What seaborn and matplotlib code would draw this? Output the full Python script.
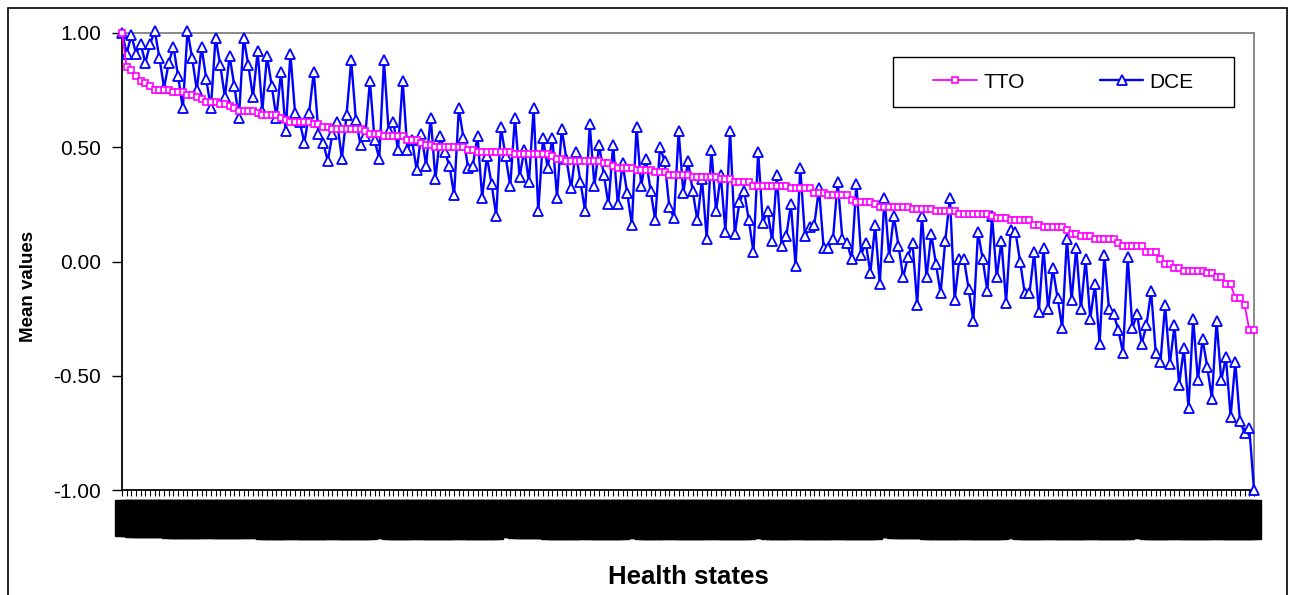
import itertools
import pandas as pd
import matplotlib
matplotlib.use('Agg')
import matplotlib.pyplot as plt
from matplotlib.patches import Rectangle
import seaborn as sns

# mean values per health state, sorted by TTO
tto = [1.00, 0.85, 0.84, 0.81, 0.79, 0.78, 0.77, 0.75, 0.75, 0.75, 0.75, 0.74, 0.74, 0.74, 0.73, 0.73,
       0.72, 0.71, 0.70, 0.70, 0.70, 0.69, 0.69, 0.68, 0.67, 0.66, 0.66, 0.66, 0.66, 0.65, 0.64, 0.64,
       0.64, 0.64, 0.63, 0.62, 0.61, 0.61, 0.61, 0.61, 0.61, 0.60, 0.60, 0.59, 0.59, 0.58, 0.58, 0.58,
       0.58, 0.58, 0.58, 0.58, 0.57, 0.56, 0.56, 0.56, 0.55, 0.55, 0.55, 0.55, 0.55, 0.53, 0.53, 0.53,
       0.52, 0.51, 0.51, 0.50, 0.50, 0.50, 0.50, 0.50, 0.50, 0.50, 0.49, 0.49, 0.48, 0.48, 0.48, 0.48,
       0.48, 0.48, 0.48, 0.48, 0.47, 0.47, 0.47, 0.47, 0.47, 0.47, 0.47, 0.47, 0.46, 0.45, 0.45, 0.44,
       0.44, 0.44, 0.44, 0.44, 0.44, 0.44, 0.44, 0.43, 0.43, 0.42, 0.41, 0.41, 0.41, 0.41, 0.40, 0.40,
       0.40, 0.40, 0.39, 0.39, 0.39, 0.38, 0.38, 0.38, 0.38, 0.38, 0.37, 0.37, 0.37, 0.37, 0.37, 0.37,
       0.36, 0.36, 0.36, 0.35, 0.35, 0.35, 0.35, 0.33, 0.33, 0.33, 0.33, 0.33, 0.33, 0.33, 0.33, 0.32,
       0.32, 0.32, 0.32, 0.32, 0.30, 0.30, 0.30, 0.29, 0.29, 0.29, 0.29, 0.29, 0.27, 0.26, 0.26, 0.26,
       0.26, 0.25, 0.24, 0.24, 0.24, 0.24, 0.24, 0.24, 0.24, 0.23, 0.23, 0.23, 0.23, 0.23, 0.22, 0.22,
       0.22, 0.22, 0.22, 0.21, 0.21, 0.21, 0.21, 0.21, 0.21, 0.21, 0.20, 0.19, 0.19, 0.19, 0.18, 0.18,
       0.18, 0.18, 0.18, 0.16, 0.16, 0.15, 0.15, 0.15, 0.15, 0.15, 0.14, 0.12, 0.12, 0.11, 0.11, 0.11,
       0.10, 0.10, 0.10, 0.10, 0.10, 0.08, 0.07, 0.07, 0.07, 0.07, 0.07, 0.04, 0.04, 0.04, 0.01, -0.01,
       -0.01, -0.03, -0.03, -0.04, -0.04, -0.04, -0.04, -0.04, -0.05, -0.05, -0.07, -0.07, -0.10, -0.10,
       -0.16, -0.16, -0.19, -0.30, -0.30]

dce = [1.00, 0.91, 0.99, 0.91, 0.95, 0.87, 0.95, 1.01, 0.89, 0.76, 0.87, 0.94, 0.81, 0.67, 1.01, 0.89,
       0.75, 0.94, 0.80, 0.67, 0.98, 0.86, 0.72, 0.90, 0.77, 0.63, 0.98, 0.86, 0.72, 0.92, 0.66, 0.90,
       0.77, 0.63, 0.83, 0.57, 0.91, 0.65, 0.61, 0.52, 0.65, 0.83, 0.56, 0.52, 0.44, 0.56, 0.61, 0.45,
       0.64, 0.88, 0.62, 0.51, 0.55, 0.79, 0.53, 0.45, 0.88, 0.57, 0.61, 0.49, 0.79, 0.49, 0.53, 0.40,
       0.56, 0.42, 0.63, 0.36, 0.55, 0.48, 0.42, 0.29, 0.67, 0.54, 0.41, 0.42, 0.55, 0.28, 0.46, 0.34,
       0.20, 0.59, 0.46, 0.33, 0.63, 0.37, 0.49, 0.35, 0.67, 0.22, 0.54, 0.41, 0.54, 0.28, 0.58, 0.45,
       0.32, 0.48, 0.35, 0.22, 0.60, 0.33, 0.51, 0.38, 0.25, 0.51, 0.25, 0.43, 0.30, 0.16, 0.59, 0.33,
       0.45, 0.31, 0.18, 0.50, 0.44, 0.24, 0.19, 0.57, 0.30, 0.44, 0.31, 0.18, 0.36, 0.10, 0.49, 0.22,
       0.38, 0.13, 0.57, 0.12, 0.26, 0.31, 0.18, 0.04, 0.48, 0.17, 0.22, 0.09, 0.38, 0.07, 0.11, 0.25,
       -0.02, 0.41, 0.11, 0.15, 0.16, 0.32, 0.06, 0.06, 0.10, 0.35, 0.10, 0.08, 0.01, 0.34, 0.03, 0.08,
       -0.05, 0.16, -0.10, 0.28, 0.02, 0.20, 0.07, -0.07, 0.02, 0.08, -0.19, 0.20, -0.07, 0.12, -0.01,
       -0.14, 0.09, 0.28, -0.17, 0.01, 0.01, -0.12, -0.26, 0.13, 0.01, -0.13, 0.20, -0.07, 0.09, -0.18,
       0.14, 0.13, 0.00, -0.14, -0.14, 0.04, -0.22, 0.06, -0.21, -0.03, -0.16, -0.29, 0.10, -0.17, 0.06,
       -0.21, 0.01, -0.25, -0.10, -0.36, 0.03, -0.21, -0.23, -0.30, -0.40, 0.02, -0.29, -0.23, -0.36,
       -0.28, -0.13, -0.40, -0.44, -0.19, -0.45, -0.28, -0.54, -0.38, -0.64, -0.25, -0.52, -0.34, -0.46,
       -0.60, -0.26, -0.52, -0.42, -0.68, -0.44, -0.70, -0.75, -0.73, -1.00]

# the 243 EQ-5D states (labels are unreadable in the original, they overlap into a black band)
health_states = [''.join(p) for p in itertools.product('123', repeat=5)]
y_ticks = [-1.0, -0.5, 0.0, 0.5, 1.0]
y_ticklabels = ['-1.00', '-0.50', '0.00', '0.50', '1.00']

df = pd.DataFrame({'state': range(len(tto)), 'TTO': tto, 'DCE': dce})

sns.set_style('white')
plt.rcParams['font.family'] = ['Liberation Sans', 'DejaVu Sans']
for key in ['text.color', 'axes.labelcolor', 'xtick.color', 'ytick.color']:
    plt.rcParams[key] = 'black'

fig = plt.figure(figsize=(12.9, 5.95), dpi=100)
ax = fig.add_axes([122 / 1290, 1 - 490 / 595, 1132 / 1290, 457 / 595])

sns.lineplot(data=df, x='state', y='DCE', ax=ax, color='#0000FF', lw=1.7, marker='^', ms=6.5,
             mfc='white', mec='#0000FF', mew=1.3, label='DCE', clip_on=False, zorder=3)
sns.lineplot(data=df, x='state', y='TTO', ax=ax, color='#FF00FF', lw=1.3, marker='s', ms=4.2,
             mfc='white', mec='#FF00FF', mew=1.2, label='TTO', clip_on=False, zorder=4)

ax.set_xlim(0, len(tto) - 1)
ax.set_ylim(-1, 1)
ax.set_yticks(y_ticks)
ax.set_yticklabels(y_ticklabels)
ax.set_xticks(range(len(health_states)))
# the state codes are packed so tightly that they print as a solid black band
ax.set_xticklabels(health_states, rotation=90, fontsize=9.5, fontweight='bold', color='black',
                   bbox=dict(facecolor='black', edgecolor='black', pad=0.5))

ax.tick_params(axis='y', left=True, direction='out', length=7, width=1, labelsize=15, pad=8)
ax.tick_params(axis='x', bottom=True, direction='out', length=4, width=0.8, pad=4)

for side in ['left', 'bottom']:
    ax.spines[side].set_color('black')
    ax.spines[side].set_linewidth(1.3)
for side in ['top', 'right']:
    ax.spines[side].set_color('#808080')
    ax.spines[side].set_linewidth(1.3)

ax.set_xlabel('Health states', fontsize=18.5, fontweight='bold')
ax.set_ylabel('Mean values', fontsize=13.5, fontweight='bold')
ax.xaxis.set_label_coords(0.5, -0.165)
ax.yaxis.set_label_coords(-0.075, 0.446)

# legend: TTO first, then DCE, framed box drawn separately
handles, labels = ax.get_legend_handles_labels()
order = [labels.index('TTO'), labels.index('DCE')]
ax.legend([handles[i] for i in order], [labels[i] for i in order],
          loc='center', bbox_to_anchor=(1063.5 / 1290, 1 - 82 / 595), bbox_transform=fig.transFigure,
          ncol=2, frameon=False, fontsize=15, handlelength=2.1, handletextpad=0.3, columnspacing=3.6)
fig.add_artist(Rectangle((893 / 1290, 1 - 107 / 595), 341 / 1290, 50 / 595, transform=fig.transFigure,
                         fill=False, ec='black', lw=1))

# chart area border
fig.add_artist(Rectangle((8 / 1290, -0.05), 1279 / 1290, 1.05 - 8 / 595, transform=fig.transFigure,
                         fill=False, ec='black', lw=1.2))

fig.savefig('out.png', dpi=100)
